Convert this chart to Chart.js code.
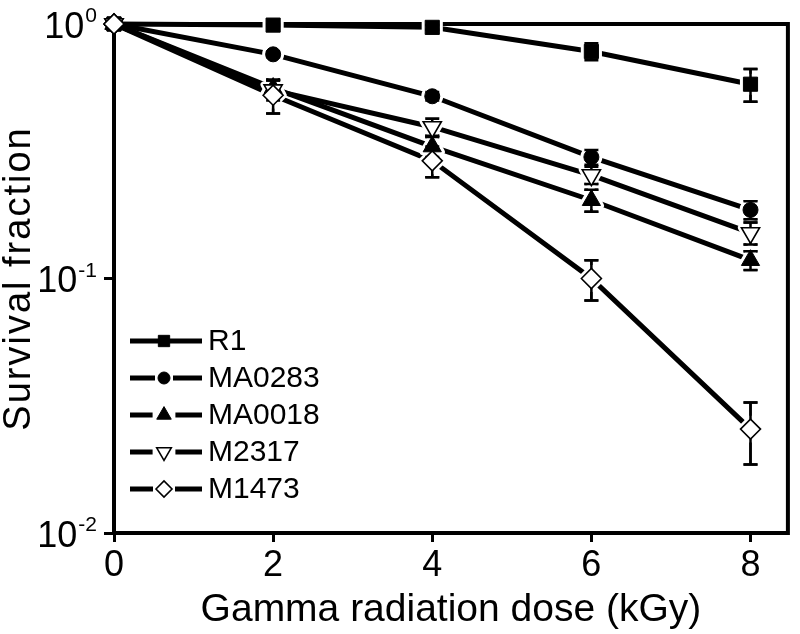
<!DOCTYPE html>
<html>
<head>
<meta charset="utf-8">
<script src="https://cdn.jsdelivr.net/npm/chart.js@4"></script>
<style>
  html, body { margin: 0; padding: 0; background: #fff; }
  #wrap { width: 800px; height: 634px; }
</style>
</head>
<body>
<div id="wrap"><canvas id="survivalChart"></canvas></div>
<script>
// Data
const doses = [0, 2, 4, 6, 8];
const seriesNames = ['R1', 'MA0283', 'MA0018', 'M2317', 'M1473'];

const r1Values     = [1, 0.99, 0.97, 0.78, 0.58];
const r1Err        = [0, 0.01, 0.02, 0.06, 0.085];
const ma0283Values = [1, 0.76, 0.52, 0.30, 0.186];
const ma0283Err    = [0, 0.02, 0.02, 0.02, 0.015];
const ma0018Values = [1, 0.56, 0.33, 0.203, 0.118];
const ma0018Err    = [0, 0.04, 0.03, 0.02, 0.01];
const m2317Values  = [1, 0.55, 0.394, 0.255, 0.151];
const m2317Err     = [0, 0.05, 0.03, 0.02, 0.015];
const m1473Values  = [1, 0.525, 0.29, 0.10, 0.0256];
const m1473Err     = [0, 0.08, 0.04, 0.018, 0.007];

const xTicks = [0, 2, 4, 6, 8];
const yTicks = [0.01, 0.1, 1];
const yTickExp = ['-2', '-1', '0'];
const yTitle = 'Survival fraction';

const FONT = '"Liberation Sans", Arial, sans-serif';

// marker look per series
const markerStyles = [
    { pointStyle: 'rect', radius: 10, fill: '#000', rotation: 0, bw: 1 },
    { pointStyle: 'circle', radius: 7.5, fill: '#000', rotation: 0, bw: 1 },
    { pointStyle: 'triangle', radius: 10.5, fill: '#000', rotation: 0, bw: 1 },
    { pointStyle: 'triangle', radius: 10.5, fill: '#fff', rotation: 180, bw: 1.6 },
    { pointStyle: 'rectRot', radius: 10, fill: '#fff', rotation: 0, bw: 1.6 }
];

function makeSet(i, values, errs) {
    const m = markerStyles[i];
    return {
        label: seriesNames[i],
        data: doses.map((d, k) => ({ x: d, y: values[k] })),
        errors: errs,
        borderColor: '#000',
        borderWidth: 5,
        pointStyle: m.pointStyle,
        pointRadius: m.radius,
        pointRotation: m.rotation,
        pointBackgroundColor: m.fill,
        pointBorderColor: '#000',
        pointBorderWidth: m.bw,
        tension: 0,
        clip: false,
        order: 4 - i
    };
}

function drawErrorBars(chart) {
    const ctx = chart.ctx;
    const xs = chart.scales.x, ys = chart.scales.y;
    ctx.save();
    ctx.strokeStyle = '#000';
    ctx.lineWidth = 2.5;
    chart.data.datasets.forEach(ds => {
        ds.data.forEach((p, k) => {
            const e = ds.errors[k];
            if (!e) return;
            const px = xs.getPixelForValue(p.x);
            const top = ys.getPixelForValue(p.y + e);
            const bot = ys.getPixelForValue(Math.max(p.y - e, 1e-4));
            ctx.beginPath();
            ctx.moveTo(px, top); ctx.lineTo(px, bot);
            ctx.moveTo(px - 7, top); ctx.lineTo(px + 7, top);
            ctx.moveTo(px - 7, bot); ctx.lineTo(px + 7, bot);
            ctx.stroke();
        });
    });
    ctx.restore();
}

// frame around the plot area, drawn under the data
const framePlugin = {
    id: 'frame',
    beforeDatasetsDraw(chart) {
        const a = chart.chartArea, ctx = chart.ctx;
        ctx.save();
        ctx.strokeStyle = '#000';
        ctx.lineWidth = 4;
        ctx.strokeRect(a.left, a.top, a.right - a.left, a.bottom - a.top);
        ctx.restore();
        drawErrorBars(chart);
    },
    // white halo round each marker so the lines stop short of it, then redraw bars and markers
    afterDatasetsDraw(chart) {
        const ctx = chart.ctx;
        const metas = chart.getSortedVisibleDatasetMetas();
        const big = { left: -1e4, right: 1e4, top: -1e4, bottom: 1e4 };
        ctx.save();
        ctx.fillStyle = '#fff';
        ctx.strokeStyle = '#fff';
        ctx.lineWidth = 7;
        ctx.lineJoin = 'round';
        metas.forEach(meta => {
            const m = markerStyles[meta.index];
            meta.data.forEach((pt, k) => {
                if (k === 0) return;
                Chart.helpers.drawPoint(ctx, { pointStyle: m.pointStyle, rotation: m.rotation, radius: m.radius, borderWidth: 7 }, pt.x, pt.y);
            });
        });
        ctx.restore();
        drawErrorBars(chart);
        for (let i = metas.length - 1; i >= 0; --i) {
            metas[i].data.forEach(pt => pt.draw(ctx, big));
        }
    }
};

// y tick labels as 10 with superscript exponent, plus the spaced y title
const yLabelPlugin = {
    id: 'yLabels',
    afterDraw(chart) {
        const ctx = chart.ctx, ys = chart.scales.y;
        ctx.save();
        ctx.fillStyle = '#000';
        yTicks.forEach((v, i) => {
            const py = ys.getPixelForValue(v);
            ctx.font = '21px ' + FONT;
            const ew = ctx.measureText(yTickExp[i]).width;
            const right = 97;
            ctx.textAlign = 'left';
            ctx.textBaseline = 'alphabetic';
            ctx.fillText(yTickExp[i], right - ew, py - 2);
            ctx.font = '36px ' + FONT;
            ctx.textAlign = 'right';
            ctx.textBaseline = 'middle';
            ctx.fillText('10', right - ew - 1, py + 4);
        });
        const a = chart.chartArea;
        ctx.translate(20, (a.top + a.bottom) / 2 + 1);
        ctx.rotate(-Math.PI / 2);
        ctx.font = '38px ' + FONT;
        ctx.letterSpacing = '2px';
        ctx.textAlign = 'center';
        ctx.textBaseline = 'middle';
        ctx.fillText(yTitle, 1, 0);
        ctx.restore();
    }
};

// legend inside the plot, lower left
const insideLegendPlugin = {
    id: 'insideLegend',
    afterDraw(chart) {
        const ctx = chart.ctx;
        const x0 = 130, x1 = 202, xm = 164, y0 = 341, dy = 37;
        ctx.save();
        chart.data.datasets.forEach((ds, i) => {
            const m = markerStyles[i];
            const y = y0 + i * dy;
            const r = m.radius * 0.8;
            const gap = i === 0 ? 0 : r + 3;
            ctx.strokeStyle = '#000';
            ctx.lineWidth = 5;
            ctx.beginPath();
            ctx.moveTo(x0, y); ctx.lineTo(xm - gap, y);
            ctx.moveTo(xm + gap, y); ctx.lineTo(x1, y);
            ctx.stroke();
            ctx.fillStyle = m.fill;
            ctx.lineWidth = m.bw;
            Chart.helpers.drawPoint(ctx, { pointStyle: m.pointStyle, rotation: m.rotation, radius: r, borderWidth: m.bw }, xm, y);
            ctx.fillStyle = '#000';
            ctx.font = '30px ' + FONT;
            ctx.textAlign = 'left';
            ctx.textBaseline = 'middle';
            ctx.fillText(ds.label, 208, y + 1);
        });
        ctx.restore();
    }
};

new Chart(document.getElementById('survivalChart'), {
    type: 'line',
    data: {
        datasets: [
            makeSet(0, r1Values, r1Err),
            makeSet(1, ma0283Values, ma0283Err),
            makeSet(2, ma0018Values, ma0018Err),
            makeSet(3, m2317Values, m2317Err),
            makeSet(4, m1473Values, m1473Err)
        ]
    },
    options: {
        responsive: true,
        maintainAspectRatio: false,
        animation: false,
        layout: { padding: { top: 24, right: 5, left: 0, bottom: 0 } },
        plugins: { legend: { display: false }, tooltip: { enabled: false } },
        scales: {
            x: {
                type: 'linear',
                min: 0,
                max: 8.47,
                afterBuildTicks: s => { s.ticks = xTicks.map(v => ({ value: v })); },
                afterFit: s => { s.height = 101; },
                border: { display: false },
                grid: { drawOnChartArea: false, drawTicks: true, tickLength: 9, tickWidth: 3, tickColor: '#000' },
                ticks: { color: '#000', padding: 2, maxRotation: 0, font: { family: FONT, size: 36 } },
                title: {
                    display: true,
                    text: 'Gamma radiation dose (kGy)',
                    color: '#000',
                    font: { family: FONT, size: 39 },
                    padding: { top: 0, bottom: 0 }
                }
            },
            y: {
                type: 'logarithmic',
                min: 0.01,
                max: 1,
                afterBuildTicks: s => { s.ticks = yTicks.map(v => ({ value: v })); },
                afterFit: s => { s.width = 114; },
                border: { display: false },
                grid: { drawOnChartArea: false, drawTicks: true, tickLength: 10, tickWidth: 3, tickColor: '#000' },
                ticks: { callback: () => '', font: { family: FONT, size: 35 } },
                title: { display: false }
            }
        }
    },
    plugins: [framePlugin, yLabelPlugin, insideLegendPlugin]
});
</script>
</body>
</html>
